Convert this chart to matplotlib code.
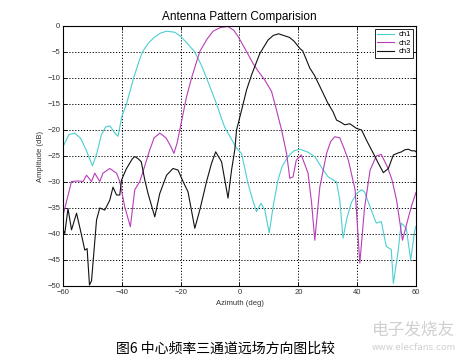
import matplotlib
matplotlib.use("Agg")
import matplotlib.pyplot as plt

# ---------------- data ----------------
ch1_az = [-60, -58, -56, -54, -52, -50, -48.5, -47, -45.5, -44, -42.5, -41.3, -40, -38.4, -36, -34, -33,
          -31, -29, -27, -24.8, -22, -20, -18, -15.2, -13, -11.2, -9.5, -7.8, -6.3, -5, -3, -1, 0.7,
          2.9, 4.5, 5.8, 7.3, 8.6, 10.1, 11.5, 13.1, 14.5, 16.5, 18.5, 20.5, 23, 25.6, 28, 30.1, 33,
          34.1, 35.2, 36.5, 38, 39.8, 41.5, 42.5, 44.8, 46.5, 48.2, 49.9, 51.6, 52.3, 53.9, 55.0,
          56.7, 58.2, 59.6, 60]
ch1_db = [-23.2, -20.9, -20.6, -21.6, -24.0, -26.9, -24.5, -21.0, -19.4, -19.2, -20.5, -21.2, -17.4, -15.0,
          -10.0, -6.5, -5.0, -3.3, -2.2, -1.4, -1.0, -1.2, -2.0, -3.2, -5.0, -7.5, -10.0, -12.5, -15.0,
          -17.5, -19.5, -21.5, -23.5, -24.5, -30.3, -33.5, -35.7, -34.1, -35.4, -39.8, -34.5, -29.6,
          -27.0, -25.1, -24.0, -23.7, -24.2, -25.1, -27.3, -29.0, -30.0, -33.5, -40.8, -37.0, -34.0,
          -32.2, -31.5, -31.9, -35.4, -37.9, -37.6, -42.4, -43.0, -49.5, -43.4, -37.9, -38.9, -45.0,
          -39.2, -38.5]

ch2_az = [-60, -59.4, -57.1, -55, -53.2, -52, -50.3, -49.2, -47.5, -46.4, -44.1, -41.8, -40.7, -39, -37.1,
          -35.6, -33.9, -32.8, -30.5, -29, -27.1, -25, -23.5, -22.3, -21.2, -20.3, -18, -16.3, -13.5,
          -11, -9, -6.5, -3.9, -2, -0.5, 2, 4.6, 6.5, 8.6, 10.9, 12.6, 14.3, 16, 17.1, 18.2, 19.3, 21,
          23.3, 24.5, 25.6, 27.3, 29.6, 31, 32.4, 34.1, 35.5, 37, 39.3, 40.9, 42.5, 44.4, 46.5, 48.2,
          50.2, 51.8, 53.4, 55.4, 57.8, 58.6, 60]
ch2_db = [-36.5, -35.1, -29.9, -29.8, -29.9, -28.7, -29.9, -28.3, -29.9, -28.3, -27.4, -28.3, -29.9, -34.8,
          -38.6, -31.5, -29.9, -28.0, -23.8, -21.5, -20.6, -21.5, -23.0, -24.5, -22.5, -20.0, -13.6,
          -10.0, -4.9, -2.5, -1.0, -0.3, -0.1, -0.8, -2.0, -4.5, -7.2, -8.8, -10.4, -12.6, -16.2, -20.0,
          -24.5, -29.3, -29.0, -25.8, -24.8, -28.3, -34.0, -41.2, -31.0, -24.5, -22.2, -21.3, -21.5,
          -23.5, -25.8, -31.5, -45.6, -35.0, -27.7, -25.0, -24.7, -27.0, -29.5, -33.5, -41.2, -36.0,
          -34.4, -32.0]

ch3_az = [-60, -59.4, -58.3, -57.1, -55.4, -53.7, -52.6, -51.8, -51.0, -50.3, -48.6, -47.5, -45.8, -44.1,
          -43, -41.8, -40.7, -40.1, -38.5, -36.5, -35.6, -34.5, -33.4, -32.2, -31.1, -28.8, -27.1,
          -24.8, -22.6, -20.9, -19.2, -17.5, -15.2, -13.5, -11.2, -9.5, -8.1, -6.1, -3.9, -2.7, -1.6,
          -1, 0.7, 2.4, 4.1, 6.9, 9.7, 11.5, 13.3, 15.4, 17, 18.5, 20.5, 21.5, 23.9, 25.5, 28.4, 30,
          31.8, 33, 34.1, 35.8, 37.5, 39.8, 41.5, 43.2, 45.5, 47.2, 48.9, 50.6, 52.3, 54, 55.1, 56.2,
          57.4, 58.5, 59.6, 60]
ch3_db = [-39.2, -39.9, -35.1, -39.2, -36.0, -40.2, -43.1, -42.8, -49.8, -49.0, -37.3, -35.0, -35.4, -33.5,
          -31.0, -32.5, -32.5, -29.6, -27.5, -25.6, -25.1, -25.5, -26.1, -29.6, -32.2, -36.7, -32.2,
          -28.7, -27.4, -27.7, -29.9, -31.9, -38.9, -35.4, -29.9, -26.4, -24.2, -26.1, -33.1, -27.7,
          -23.8, -20.0, -16.2, -12.3, -9.4, -5.3, -2.7, -1.8, -1.5, -1.9, -2.2, -2.9, -4.3, -4.8, -8.1,
          -9.5, -12.9, -14.8, -16.5, -18.1, -18.4, -19.0, -18.8, -19.7, -20.0, -22.0, -24.5, -26.4,
          -28.2, -27.4, -24.8, -24.4, -24.2, -23.8, -23.7, -24.0, -24.0, -24.2]

series_names = ["ch1", "ch2", "ch3"]
x_ticks = [-60, -40, -20, 0, 20, 40, 60]
y_ticks = [0, -5, -10, -15, -20, -25, -30, -35, -40, -45, -50]
title = "Antenna Pattern Comparision"
xlabel = "Azimuth (deg)"
ylabel = "Amplitude (dB)"
caption = "图6 中心频率三通道远场方向图比较"

# ---------------- figure ----------------
W, H = 458, 364
fig = plt.figure(figsize=(W / 100, H / 100), dpi=100)
ax = fig.add_axes([63 / W, 1 - 286 / H, (416 - 63) / W, (286 - 26) / H])

colors = ["#4ccfd2", "#b93cb9", "#111111"]
for az, db, name, c in zip([ch1_az, ch2_az, ch3_az], [ch1_db, ch2_db, ch3_db], series_names, colors):
    ax.plot(az, db, color=c, lw=0.8, label=name)

ax.set_xlim(-60, 60)
ax.set_ylim(-50, 0)
ax.set_xticks(x_ticks)
ax.set_yticks(y_ticks)
ax.grid(True, color="black", linestyle=(0, (1.2, 1.8)), linewidth=0.7)
for s in ax.spines.values():
    s.set_linewidth(0.8)
    s.set_color("black")
ax.tick_params(direction="in", length=3, width=0.6, top=True, right=True,
               labelsize=5.5, labelcolor="#333333", pad=2)
for lab in ax.get_xticklabels() + ax.get_yticklabels():
    lab.set_family("Liberation Sans")

ax.set_title(title, fontsize=8.5, family="Liberation Sans", pad=4)
ax.set_xlabel(xlabel, fontsize=5.5, family="Liberation Sans", color="#333333", labelpad=3)
ax.set_ylabel(ylabel, fontsize=5.5, family="Liberation Sans", color="#333333", labelpad=2)

leg = ax.legend(loc="upper right", fontsize=5.5, handlelength=2.2, borderaxespad=0.35,
                fancybox=False, framealpha=1, edgecolor="black", borderpad=0.3,
                labelspacing=0.15, handletextpad=0.6, prop={"family": "Liberation Sans", "size": 5.5})
leg.get_frame().set_linewidth(0.6)

fig.text(116 / W, 1 - 349 / H, caption, fontsize=10, va="center", ha="left",
         family=["Noto Sans CJK SC", "DejaVu Sans"])
# watermark
fig.text(372 / W, 1 - 330 / H, "电子发烧友", fontsize=12, va="center", ha="left",
         color="#d0d0d0", family=["Noto Sans CJK SC", "DejaVu Sans"], style="italic")
fig.text(372 / W, 1 - 348 / H, "www.elecfans.com", fontsize=6.5, va="center", ha="left",
         color="#d0d0d0", family="DejaVu Sans")

fig.savefig("out.png", dpi=100)
